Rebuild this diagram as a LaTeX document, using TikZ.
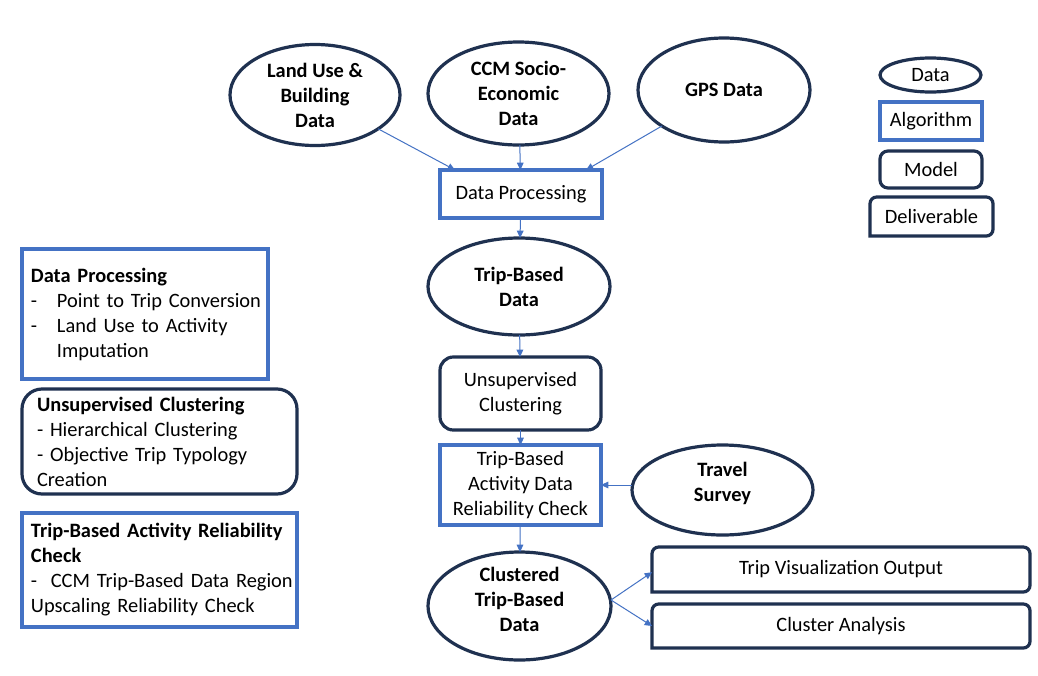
\documentclass[tikz,border=0pt]{standalone}
\usepackage{fontspec}
\setmainfont{Carlito}
\usetikzlibrary{shapes.geometric,arrows.meta,calc}
\definecolor{navy}{HTML}{1F3150}
\definecolor{algblue}{HTML}{4472C4}
\def\pu{0.75pt}
\newcommand\delivbox[1]{\draw[dlvline] (#1.south west) -- (#1.north west) -- (#1.north east) -- (#1.south east) -- (#1.south west);}
\tikzset{
 base/.style={inner sep=0pt, outer sep=0pt, align=center, font=\fontsize{15.3}{18.75}\selectfont},
 dat/.style={base, ellipse, draw=navy, line width=2.4pt, font=\fontsize{15.3}{18.75}\selectfont\bfseries},
 legdat/.style={dat, font=\fontsize{15.3}{18.75}\selectfont},
 dtext/.style={inner sep=0pt, outer sep=0pt, align=center, font=\fontsize{15.3}{18.75}\selectfont\bfseries},
 alg/.style={base, rectangle, draw=algblue, line width=2.3pt},
 mdl/.style={base, rectangle, rounded corners=10pt, draw=navy, line width=2.4pt},
 dlv/.style={base, rectangle},
 dlvline/.style={draw=navy, line width=2.4pt, rounded corners=5pt, line cap=rect},
 flow/.style={draw=algblue, line width=0.75pt, -{Triangle[length=5.5pt,width=5pt]}},
 leftalg/.style={alg, align=left, inner xsep=6.75pt},
}
\begin{document}
\begin{tikzpicture}[x=0.75pt,y=-0.75pt]
\useasboundingbox[fill=white] (0,0) rectangle (1038,675);

% data ellipses
\node[dat, minimum width=170*\pu, minimum height=101*\pu] (lu) at (315,95) {Land Use \&\\Building\\Data};
\node[dat, minimum width=181*\pu, minimum height=103*\pu] (ccm) at (518.5,93.5) {CCM Socio-\\Economic\\Data};
\node[dat, minimum width=172*\pu, minimum height=104*\pu] (gps) at (724,90) {GPS Data};
\node[dat, minimum width=182*\pu, minimum height=97*\pu] (tb) at (519,286.5) {Trip-Based\\Data};
\node[dat, minimum width=181*\pu, minimum height=90*\pu,
      label={[dtext, yshift=4.8pt]center:Travel\\Survey}] (ts) at (722.5,490) {};
\node[dat, minimum width=183*\pu, minimum height=108*\pu,
      label={[dtext, yshift=4.6pt]center:Clustered\\Trip-Based\\Data}] (cl) at (519.5,606) {};

% algorithm / model boxes
\node[alg, minimum width=162*\pu, minimum height=48*\pu] (dp) at (521,194) {Data Processing};
\node[mdl, minimum width=161*\pu, minimum height=73*\pu] (uc) at (520.5,393.5) {Unsupervised\\Clustering};
\node[alg, minimum width=161*\pu, minimum height=80*\pu] (ta) at (520.5,485) {Trip-Based\\Activity Data\\Reliability Check};

% deliverables
\node[dlv, minimum width=378*\pu, minimum height=45*\pu] (tv) at (841,569.5) {Trip Visualization Output};
\node[dlv, minimum width=378*\pu, minimum height=44*\pu] (ca) at (841,626) {Cluster Analysis};
\delivbox{tv}
\delivbox{ca}

% legend
\node[legdat, minimum width=101*\pu, minimum height=34*\pu] (lgd) at (930.5,75) {Data};
\node[alg, minimum width=102*\pu, minimum height=38*\pu] (lga) at (931,121) {Algorithm};
\node[mdl, rounded corners=6pt, minimum width=102*\pu, minimum height=37*\pu] (lgm) at (931,169.5) {Model};
\node[dlv, minimum width=123*\pu, minimum height=39*\pu] (lgv) at (931.5,216.5) {Deliverable};
\delivbox{lgv}

% left description boxes
\node[leftalg, text width=228*\pu, minimum height=130*\pu] (lb1) at (145,314)
 {\mbox{\textbf{Data Processing}}\\
  \mbox{\makebox[19.5pt][l]{-}Point to Trip Conversion}\\
  \mbox{\makebox[19.5pt][l]{-}Land Use to Activity}\\
  \mbox{\hspace*{19.5pt}Imputation}};
\node[mdl, rounded corners=15pt, align=left, inner xsep=11.25pt, text width=245*\pu, minimum height=105*\pu] (lb2) at (159.5,441.5)
 {\mbox{\textbf{Unsupervised Clustering}}\\
  \mbox{- Hierarchical Clustering}\\
  \mbox{- Objective Trip Typology}\\
  \mbox{Creation}};
\node[leftalg, text width=257*\pu, minimum height=114*\pu] (lb3) at (159.5,570)
 {\mbox{\textbf{Trip-Based Activity Reliability}}\\
  \mbox{\textbf{Check}}\\
  \mbox{-\ \ CCM Trip-Based Data Region}\\
  \mbox{Upscaling Reliability Check}};

% connectors
\coordinate (dpl) at ([xshift=15*\pu]dp.north west);
\coordinate (dpr) at ([xshift=-16*\pu]dp.north east);
\draw[flow] (lu) -- (dpl);
\draw[flow] (ccm) -- (dp);
\draw[flow] (gps) -- (dpr);
\draw[flow] (dp) -- (tb);
\draw[flow] (tb) -- (uc);
\draw[flow] (uc) -- (ta);
\draw[flow] (ts.west |- ta.east) -- (ta.east);
\draw[flow] (ta) -- (cl);
\draw[flow] ([yshift=4.5pt]cl.east) -- ([yshift=-2pt]tv.west);
\draw[flow] ([yshift=4.5pt]cl.east) -- (ca.west);
\end{tikzpicture}
\end{document}
